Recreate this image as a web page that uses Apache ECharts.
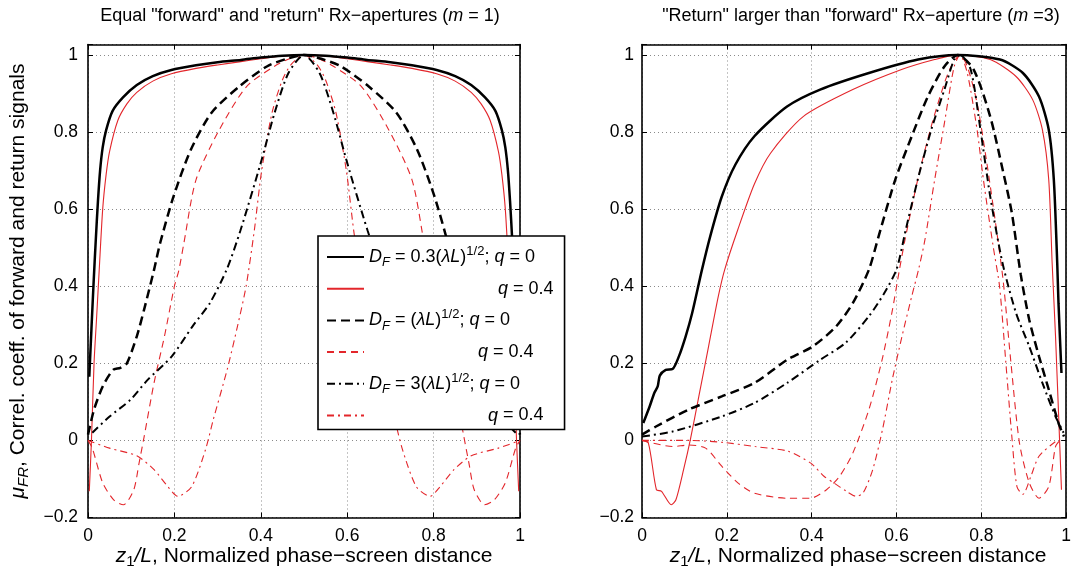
<!DOCTYPE html>
<html>
<head>
<meta charset="utf-8">
<script src="https://cdn.jsdelivr.net/npm/echarts@6/dist/echarts.min.js"></script>
<style>html,body{margin:0;padding:0;background:#fff}#c{width:1074px;height:576px}</style>
</head>
<body>
<div id="c"></div>
<script>
// ---------- data (x = z1/L, y = mu_FR) ----------
// Left panel: m = 1
var leftK03 = [[0.003,0.165],[0.008,0.29],[0.013,0.41],[0.018,0.52],[0.023,0.62],[0.028,0.70],[0.034,0.76],[0.042,0.805],[0.057,0.855],[0.081,0.89],[0.113,0.922],[0.15,0.945],[0.193,0.961],[0.25,0.973],[0.30,0.981],[0.354,0.987],[0.40,0.993],[0.45,0.998],[0.50,1.0],[0.55,0.998],[0.60,0.993],[0.646,0.987],[0.70,0.981],[0.75,0.973],[0.807,0.961],[0.85,0.945],[0.887,0.922],[0.919,0.89],[0.943,0.855],[0.958,0.805],[0.966,0.76],[0.972,0.70],[0.977,0.62],[0.982,0.52],[0.987,0.41],[0.992,0.29],[0.997,0.165]];
var leftR03 = [[0.003,-0.132],[0.008,0.0],[0.014,0.20],[0.020,0.32],[0.026,0.443],[0.034,0.60],[0.042,0.69],[0.050,0.75],[0.069,0.83],[0.09,0.873],[0.113,0.903],[0.15,0.932],[0.193,0.951],[0.25,0.965],[0.30,0.974],[0.35,0.982],[0.40,0.99],[0.45,0.997],[0.50,1.0],[0.55,0.997],[0.60,0.99],[0.65,0.982],[0.70,0.974],[0.75,0.965],[0.807,0.951],[0.85,0.932],[0.887,0.903],[0.91,0.873],[0.931,0.83],[0.950,0.75],[0.958,0.69],[0.966,0.60],[0.974,0.443],[0.980,0.32],[0.986,0.20],[0.992,0.0],[0.997,-0.132]];
var leftK1 = [[0.0,0.015],[0.014,0.08],[0.034,0.14],[0.058,0.183],[0.075,0.188],[0.09,0.20],[0.113,0.27],[0.13,0.34],[0.153,0.443],[0.167,0.512],[0.198,0.633],[0.238,0.754],[0.286,0.85],[0.35,0.918],[0.414,0.97],[0.46,0.99],[0.50,1.0],[0.54,0.99],[0.586,0.97],[0.65,0.918],[0.714,0.85],[0.762,0.754],[0.802,0.633],[0.833,0.512],[0.847,0.443],[0.87,0.34],[0.887,0.27],[0.91,0.20],[0.925,0.188],[0.942,0.183],[0.966,0.14],[0.986,0.08],[1.0,0.015]];
var leftR1 = [[0.0,0.0],[0.01,-0.02],[0.034,-0.11],[0.06,-0.155],[0.082,-0.167],[0.106,-0.128],[0.118,-0.06],[0.13,0.01],[0.153,0.15],[0.177,0.27],[0.20,0.40],[0.21,0.44],[0.222,0.512],[0.25,0.676],[0.304,0.806],[0.367,0.918],[0.431,0.97],[0.47,0.992],[0.50,1.0],[0.53,0.992],[0.569,0.97],[0.633,0.918],[0.696,0.806],[0.75,0.676],[0.778,0.512],[0.79,0.44],[0.80,0.40],[0.823,0.27],[0.847,0.15],[0.87,0.01],[0.882,-0.06],[0.894,-0.128],[0.918,-0.167],[0.94,-0.155],[0.966,-0.11],[0.99,-0.02],[1.0,0.0]];
var leftK3 = [[0.01,0.02],[0.05,0.062],[0.098,0.105],[0.138,0.157],[0.194,0.218],[0.242,0.296],[0.282,0.356],[0.321,0.443],[0.353,0.545],[0.40,0.72],[0.432,0.85],[0.464,0.953],[0.50,1.0],[0.536,0.953],[0.568,0.85],[0.60,0.72],[0.647,0.545],[0.679,0.443],[0.718,0.356],[0.758,0.296],[0.806,0.218],[0.862,0.157],[0.902,0.105],[0.95,0.062],[0.99,0.02]];
var leftR3 = [[0.0,0.0],[0.05,-0.02],[0.113,-0.04],[0.153,-0.076],[0.185,-0.12],[0.208,-0.145],[0.24,-0.12],[0.272,-0.024],[0.29,0.054],[0.322,0.183],[0.346,0.296],[0.366,0.40],[0.385,0.545],[0.402,0.70],[0.426,0.85],[0.45,0.935],[0.47,0.975],[0.50,1.0],[0.53,0.975],[0.55,0.935],[0.574,0.85],[0.598,0.70],[0.615,0.545],[0.634,0.40],[0.654,0.296],[0.678,0.183],[0.71,0.054],[0.728,-0.024],[0.76,-0.12],[0.792,-0.145],[0.815,-0.12],[0.847,-0.076],[0.887,-0.04],[0.95,-0.02],[1.0,0.0]];
// Right panel: m = 3
var rightK03 = [[0.003,0.045],[0.018,0.088],[0.029,0.123],[0.037,0.14],[0.042,0.168],[0.056,0.183],[0.072,0.185],[0.087,0.218],[0.103,0.27],[0.118,0.329],[0.141,0.441],[0.161,0.53],[0.188,0.632],[0.22,0.715],[0.265,0.789],[0.342,0.866],[0.42,0.91],[0.535,0.953],[0.651,0.988],[0.744,1.0],[0.844,0.988],[0.898,0.953],[0.936,0.892],[0.959,0.806],[0.971,0.676],[0.979,0.46],[0.982,0.356],[0.989,0.175]];
var rightR03 = [[0.0,0.0],[0.015,-0.007],[0.034,-0.128],[0.046,-0.132],[0.069,-0.167],[0.08,-0.154],[0.098,-0.076],[0.114,0.002],[0.134,0.114],[0.157,0.244],[0.18,0.374],[0.195,0.443],[0.226,0.547],[0.265,0.665],[0.303,0.745],[0.38,0.84],[0.497,0.91],[0.612,0.962],[0.69,0.988],[0.744,1.0],[0.821,0.988],[0.882,0.944],[0.921,0.884],[0.944,0.806],[0.959,0.676],[0.967,0.46],[0.975,0.27],[0.989,-0.128]];
var rightK1 = [[0.0,0.015],[0.033,0.036],[0.11,0.08],[0.188,0.114],[0.265,0.149],[0.342,0.209],[0.403,0.244],[0.458,0.296],[0.497,0.356],[0.535,0.443],[0.558,0.53],[0.597,0.676],[0.636,0.789],[0.674,0.892],[0.713,0.97],[0.745,1.0],[0.782,0.962],[0.821,0.84],[0.852,0.694],[0.872,0.59],[0.893,0.43],[0.913,0.313],[0.936,0.218],[0.959,0.132],[0.982,0.045],[0.995,0.01]];
var rightR1 = [[0.0,0.0],[0.072,-0.016],[0.11,-0.012],[0.15,-0.02],[0.188,-0.067],[0.226,-0.11],[0.265,-0.137],[0.342,-0.15],[0.397,-0.15],[0.435,-0.128],[0.466,-0.093],[0.497,-0.033],[0.535,0.08],[0.566,0.209],[0.589,0.33],[0.607,0.443],[0.62,0.52],[0.65,0.676],[0.682,0.815],[0.713,0.927],[0.729,0.97],[0.75,1.0],[0.767,0.97],[0.79,0.875],[0.813,0.72],[0.836,0.545],[0.852,0.41],[0.87,0.20],[0.89,-0.007],[0.913,-0.11],[0.936,-0.15],[0.959,-0.12],[0.975,-0.016],[0.985,0.0]];
var rightK3 = [[0.0,0.01],[0.072,0.023],[0.188,0.062],[0.265,0.097],[0.342,0.149],[0.42,0.209],[0.48,0.253],[0.535,0.322],[0.57,0.38],[0.60,0.443],[0.622,0.547],[0.65,0.676],[0.682,0.806],[0.713,0.91],[0.736,0.988],[0.75,1.0],[0.775,0.962],[0.798,0.806],[0.821,0.633],[0.85,0.46],[0.882,0.33],[0.913,0.244],[0.944,0.149],[0.975,0.062],[0.994,0.02]];
var rightR3 = [[0.0,0.0],[0.113,0.0],[0.19,-0.005],[0.267,-0.016],[0.344,-0.028],[0.398,-0.059],[0.429,-0.093],[0.452,-0.11],[0.482,-0.132],[0.505,-0.145],[0.521,-0.137],[0.544,-0.076],[0.567,0.028],[0.59,0.157],[0.613,0.27],[0.636,0.374],[0.652,0.443],[0.667,0.52],[0.69,0.676],[0.713,0.823],[0.736,0.97],[0.75,1.0],[0.767,0.953],[0.79,0.806],[0.805,0.676],[0.828,0.503],[0.843,0.40],[0.858,0.20],[0.872,0.01],[0.884,-0.12],[0.898,-0.14],[0.917,-0.093],[0.936,-0.041],[0.975,-0.003],[0.985,0.0]];

var xTicks = [0, 0.2, 0.4, 0.6, 0.8, 1];
var yTicks = [-0.2, 0, 0.2, 0.4, 0.6, 0.8, 1];
var panelTitles = ['Equal "forward" and "return" Rx\u2212apertures ({i|m} = 1)', '"Return" larger than "forward" Rx\u2212aperture ({i|m} =3)'];
var legendNames = ['D03q0','D03q4','D1q0','D1q4','D3q0','D3q4'];

// ---------- styling ----------
var FONT = '"Liberation Sans", Arial, Helvetica, sans-serif';
var RED = '#e3262b';
var styles = {
  D03q0: {color:'#000', width:2.5, type:'solid'},
  D03q4: {color:RED, width:1.1, type:'solid'},
  D1q0:  {color:'#000', width:2.5, type:[9,5]},
  D1q4:  {color:RED, width:1.1, type:[7,5]},
  D3q0:  {color:'#000', width:2, type:[8,4,2,4]},
  D3q4:  {color:RED, width:1.1, type:[7,4,2,4]}
};
var legendText = {
  D03q0: '{i|D}{sub|F}{n| = 0.3(}{i|\u03bbL}{n|)}{sup|1/2}{n|; }{i|q}{n| = 0}',
  D03q4: '{sp1| }{i|q}{n| = 0.4}',
  D1q0:  '{i|D}{sub|F}{n| = (}{i|\u03bbL}{n|)}{sup|1/2}{n|; }{i|q}{n| = 0}',
  D1q4:  '{sp2| }{i|q}{n| = 0.4}',
  D3q0:  '{i|D}{sub|F}{n| = 3(}{i|\u03bbL}{n|)}{sup|1/2}{n|; }{i|q}{n| = 0}',
  D3q4:  '{sp3| }{i|q}{n| = 0.4}'
};
function rich(fs, lh) {
  var s = Math.round(fs * 0.72);
  return {
    n: {fontFamily:FONT, fontSize:fs, lineHeight:lh, color:'#000'},
    i: {fontFamily:FONT, fontSize:fs, lineHeight:lh, fontStyle:'italic', color:'#000'},
    sub: {fontFamily:FONT, fontSize:s, lineHeight:s, verticalAlign:'bottom', fontStyle:'italic', color:'#000'},
    subn: {fontFamily:FONT, fontSize:s, lineHeight:s, verticalAlign:'bottom', color:'#000'},
    sup: {fontFamily:FONT, fontSize:s, lineHeight:s, verticalAlign:'top', color:'#000'},
    sp1: {width:129, lineHeight:lh}, sp2: {width:109, lineHeight:lh}, sp3: {width:119, lineHeight:lh}
  };
}

var grids = [
  {left:88, top:44.5, width:432, height:473},
  {left:642, top:44.5, width:430, height:473}
];
function fmt(v) {
  var r = Math.round(v * 5);
  if (Math.abs(v * 5 - r) > 1e-6) return '';
  var s = String(+(r / 5).toFixed(1));
  return s.charAt(0) === '-' ? '\u2212' + s.slice(1) : s;
}
var axLine = {show:true, onZero:false, lineStyle:{color:'#000', width:1.6}};
var axTick = {show:true, inside:true, length:5, lineStyle:{color:'#000', width:1}};
var gridLine = {show:true, lineStyle:{color:'#8a8a8a', width:1, type:[1,3]}};
var xAxes = [], yAxes = [];
[0,1].forEach(function(g){
  xAxes.push({gridIndex:g, type:'value', position:'bottom', min:xTicks[0], max:xTicks[xTicks.length-1], interval:0.2,
    axisLine:axLine, axisTick:axTick, splitLine:gridLine,
    axisLabel:{show:true, color:'#000', fontFamily:FONT, fontSize:17.5, margin:10, formatter:fmt}});
  xAxes.push({gridIndex:g, type:'value', position:'top', min:0, max:1, interval:0.2,
    axisLine:axLine, axisTick:axTick, splitLine:{show:false}, axisLabel:{show:false}});
  yAxes.push({gridIndex:g, type:'value', position:'left', min:yTicks[0], max:1.027, interval:0.2,
    axisLine:axLine, axisTick:axTick, splitLine:gridLine,
    axisLabel:{show:true, color:'#000', fontFamily:FONT, fontSize:17.5, margin:(g===0?10:8), formatter:fmt}});
  yAxes.push({gridIndex:g, type:'value', position:'right', min:-0.2, max:1.027, interval:0.2,
    axisLine:axLine, axisTick:axTick, splitLine:{show:false}, axisLabel:{show:false}});
});

function mk(name, data, g) {
  var st = styles[name];
  return {name: g === 0 ? name : 'R_' + name, type:'line', data:data, xAxisIndex:g*2, yAxisIndex:g*2,
    symbol:'none', showSymbol:false, smooth:0.25, clip:true,
    lineStyle:{color:st.color, width:st.width, type:st.type}, itemStyle:{color:st.color}, z:(st.color==='#000'?3:2)};
}
var series = [
  mk('D03q0', leftK03, 0), mk('D03q4', leftR03, 0), mk('D1q0', leftK1, 0),
  mk('D1q4', leftR1, 0), mk('D3q0', leftK3, 0), mk('D3q4', leftR3, 0),
  mk('D03q0', rightK03, 1), mk('D03q4', rightR03, 1), mk('D1q0', rightK1, 1),
  mk('D1q4', rightR1, 1), mk('D3q0', rightK3, 1), mk('D3q4', rightR3, 1)
];

var chart = echarts.init(document.getElementById('c'), null, {renderer:'canvas'});
chart.setOption({
  animation:false,
  backgroundColor:'#fff',
  grid:grids,
  xAxis:xAxes,
  yAxis:yAxes,
  legend:{
    data:legendNames, orient:'vertical', left:318, top:236,
    padding:[9,11,2,8], itemGap:7.7, itemWidth:37, itemHeight:14,
    backgroundColor:'#fff', borderColor:'#000', borderWidth:1.6, selectedMode:false,
    itemStyle:{opacity:0, borderWidth:0},
    formatter:function(n){ return legendText[n]; },
    textStyle:{fontFamily:FONT, fontSize:18, lineHeight:24, color:'#000', rich:rich(18,24)},
    z:10
  },
  graphic:[
    {type:'text', x:300, y:16, z:20, style:{text:panelTitles[0], align:'center', verticalAlign:'middle', fontFamily:FONT, fontSize:18, fill:'#000', rich:{i:{fontFamily:FONT, fontSize:18, fontStyle:'italic'}}}},
    {type:'text', x:861, y:16, z:20, style:{text:panelTitles[1], align:'center', verticalAlign:'middle', fontFamily:FONT, fontSize:18, fill:'#000', rich:{i:{fontFamily:FONT, fontSize:18, fontStyle:'italic'}}}},
    {type:'text', x:304, y:556, z:20, style:{text:'{i|z}{subn|1}{i|/L}{n|, Normalized phase\u2212screen distance}', align:'center', verticalAlign:'middle', rich:rich(21,26)}},
    {type:'text', x:858, y:556, z:20, style:{text:'{i|z}{subn|1}{i|/L}{n|, Normalized phase\u2212screen distance}', align:'center', verticalAlign:'middle', rich:rich(21,26)}},
    {type:'text', x:18, y:281, rotation:Math.PI/2, z:20, style:{text:'{i|\u03bc}{sub|FR}{n|, Correl. coeff. of forward and return signals}', align:'center', verticalAlign:'middle', rich:rich(21,26)}}
  ],
  series:series
});
</script>
</body>
</html>
